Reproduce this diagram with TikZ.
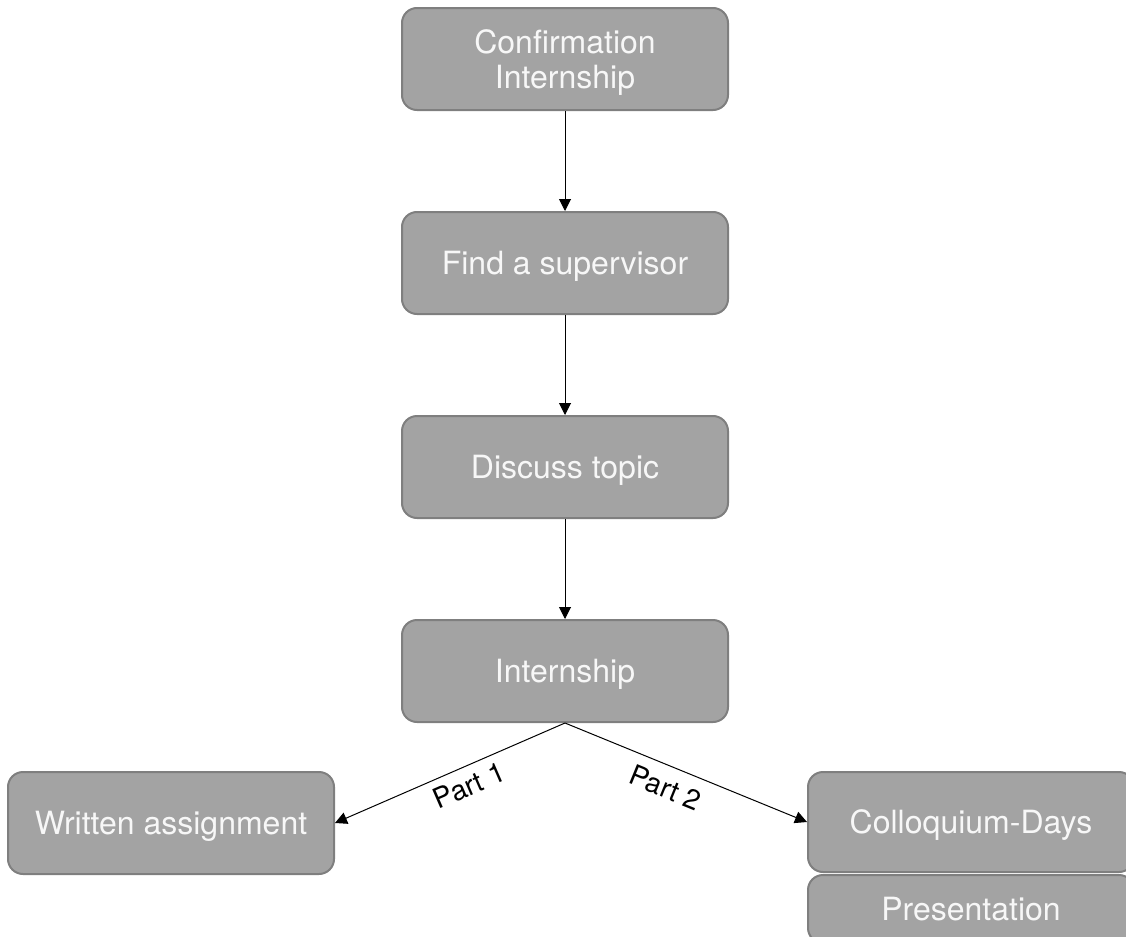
\documentclass[tikz,border=0pt]{standalone}
\usepackage{fontspec}
\setmainfont{TeX Gyre Heros}
\usepackage{xcolor}
\definecolor{boxFill}{HTML}{A3A3A3}
\definecolor{boxBorder}{HTML}{7F7F7F}
\definecolor{boxText}{HTML}{F7F7F7}
\usetikzlibrary{arrows.meta,positioning}
\tikzset{
    stage/.style={
        draw=boxBorder,
        fill=boxFill,
        rectangle,
        rounded corners=7.5pt,
        align=center,
        minimum height=51pt,
        minimum width=163pt,
        line width=1pt,
        text=boxText,
        text depth=0pt,
        font=\fontsize{16}{17.5}\selectfont
    },
    arrow/.style={
        -{Triangle[length=6pt,width=6pt]},
        line width=0.5pt,
        color=black
    },
    label/.style={
        font=\fontsize{14}{16}\selectfont,
        sloped,
        below,
        inner sep=4pt
    }
}

\begin{document}
\begin{tikzpicture}[node distance=50pt]
    \useasboundingbox (0,0) rectangle (563pt,-468.5pt);
    \clip (0,0) rectangle (563pt,-468.5pt);

    % Main path
    \node[stage] (confirm) at (282.5pt,-29.5pt) {Confirmation\\Internship};
    \node[stage, below=of confirm] (supervisor) {Find a supervisor};
    \node[stage, below=of supervisor] (topic) {Discuss topic};
    \node[stage, below=of topic] (internship) {Internship};

    % Two parts
    \node[stage, below left=24pt and 33pt of internship] (written) {Written assignment};
    \node[stage, below right=24pt and 39pt of internship, minimum height=50pt] (colloquium) {Colloquium-Days};
    \node[stage, below=0.5pt of colloquium, minimum height=34pt] (presentation) {Presentation};

    % Arrows
    \draw[arrow] (confirm) -- (supervisor);
    \draw[arrow] (supervisor) -- (topic);
    \draw[arrow] (topic) -- (internship);
    \draw[arrow] (internship.south) -- node[label, pos=0.45] {Part 1} (written.east);
    \draw[arrow] (internship.south) -- node[label, pos=0.45, inner sep=5.5pt] {Part 2} (colloquium.west);
\end{tikzpicture}
\end{document}
